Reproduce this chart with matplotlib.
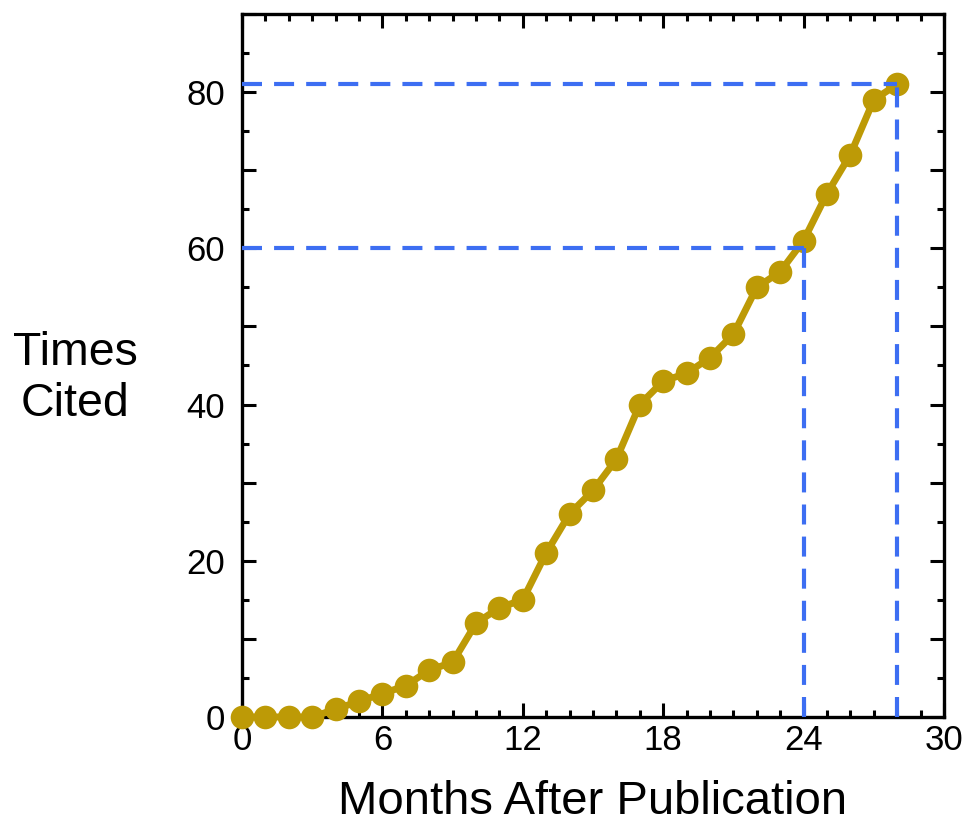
import numpy as np
import matplotlib
matplotlib.use('Agg')
import matplotlib.pyplot as plt
from matplotlib.ticker import MultipleLocator, FuncFormatter

months = list(range(29))
cites = [0, 0, 0, 0, 1, 2, 3, 4, 6, 7, 12, 14, 15, 21, 26, 29, 33, 40,
         43, 44, 46, 49, 55, 57, 61, 67, 72, 79, 81]

# reference lines (month, times cited)
guide_x = [24, 28]
guide_y = [60, 81]

plt.rcParams['font.family'] = ['Liberation Sans', 'DejaVu Sans']

fig = plt.figure(figsize=(9.66, 8.23), dpi=100)
ax = fig.add_axes([0.2505, 0.1288, 0.7267, 0.8542])

gold = '#BD9A06'
blue = '#3D6EF2'

ax.plot(months, cites, color=gold, lw=5, marker='o', ms=17,
        markeredgewidth=0, clip_on=False, zorder=3)

for gx, gy in zip(guide_x, guide_y):
    ax.plot([0, gx], [gy, gy], color=blue, lw=3, ls=(0, (4.8, 2.9)), zorder=4)
    ax.plot([gx, gx], [0, gy], color=blue, lw=3, ls=(0, (4.8, 2.9)), zorder=4)

ax.set_xlim(0, 30)
ax.set_ylim(0, 90)

ax.xaxis.set_major_locator(MultipleLocator(6))
ax.xaxis.set_minor_locator(MultipleLocator(1))
ax.yaxis.set_major_locator(MultipleLocator(10))
ax.yaxis.set_minor_locator(MultipleLocator(5))
ax.yaxis.set_major_formatter(FuncFormatter(lambda v, p: '%d' % v if v % 20 == 0 and v <= 80 else ''))

ax.tick_params(which='both', direction='in', top=True, right=True,
               width=2.2, labelsize=25)
ax.tick_params(which='major', length=10)
ax.tick_params(which='minor', length=5)
ax.tick_params(axis='x', pad=5)
ax.tick_params(axis='y', pad=12)

for s in ax.spines.values():
    s.set_linewidth(2.4)

ax.set_xlabel('Months After Publication', fontsize=34, va='baseline')
ax.xaxis.set_label_coords(0.5, -0.138)
ax.set_ylabel('Times\nCited', fontsize=33.5, rotation=0, ha='center', va='center',
              multialignment='center', linespacing=1.2)
ax.yaxis.set_label_coords(-0.238, 0.482)

fig.savefig('out.png', dpi=100)
